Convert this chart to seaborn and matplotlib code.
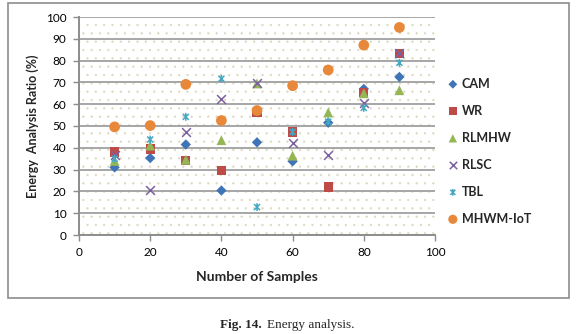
import numpy as np
import pandas as pd
import matplotlib
matplotlib.use("Agg")
import matplotlib.pyplot as plt
import seaborn as sns
from matplotlib.path import Path
from matplotlib.patches import Rectangle

samples = [10, 20, 30, 40, 50, 60, 70, 80, 90]
series_names = ["CAM", "WR", "RLMHW", "RLSC", "TBL", "MHWM-IoT"]
cam = [31, 35.3, 41.5, 20.4, 42.5, 33.8, 51.5, 67, 72.5]
wr = [38.1, 39.5, 34.2, 29.5, 56.2, 47.3, 22, 65.4, 83.3]
rlmhw = [34, 41, 34.5, 43.5, 69.5, 36.4, 56.2, 65, 66.4]
rlsc = [36.9, 20.7, 47.1, 62.5, 69.5, 42, 36.5, 60.4, 83.3]
tbl = [35, 43.8, 54.2, 71.7, 12.8, 47.3, 52, 58.3, 79]
mhwm = [49.6, 50.2, 69.1, 52.5, 57.1, 68.5, 75.7, 87.1, 95.2]
x_ticks = [0, 20, 40, 60, 80, 100]
y_ticks = [0, 10, 20, 30, 40, 50, 60, 70, 80, 90, 100]

values = [cam, wr, rlmhw, rlsc, tbl, mhwm]
df = pd.concat([pd.DataFrame({"samples": samples, "ratio": v, "method": n})
                for n, v in zip(series_names, values)], ignore_index=True)

sns.set_theme(style="white")
plt.rcParams["font.family"] = ["Lato", "DejaVu Sans"]
plt.rcParams["hatch.linewidth"] = 0.4

colors = {"CAM": "#3f74b6", "WR": "#be4b48", "RLMHW": "#94b655", "RLSC": "#7c61a0",
          "TBL": "#45a7c1", "MHWM-IoT": "#e8883a"}

ast_verts = [(-1, -1), (1, 1), (-1, 1), (1, -1), (0, -1.3), (0, 1.3)]
ast_codes = [Path.MOVETO, Path.LINETO, Path.MOVETO, Path.LINETO, Path.MOVETO, Path.LINETO]
asterisk = Path(ast_verts, ast_codes)

fig = plt.figure(figsize=(5.8, 3.34), dpi=100)
ax = fig.add_axes([79/580, 1-235/334, (435-79)/580, (235-17)/334])

# frame around chart area
fig.patches.append(Rectangle((8/580, 1-298/334), (569-8)/580, (298-3)/334,
                             transform=fig.transFigure, fill=False,
                             edgecolor="#8c8c8c", linewidth=1.2))

ax.set_facecolor("white")
bg = Rectangle((0, 0), 1, 1, transform=ax.transAxes, fill=False, hatch="..",
               edgecolor="#ddd8bc", linewidth=0, zorder=0)
ax.add_patch(bg)

for yv in y_ticks[1:]:
    ax.axhline(yv, color="#a6a6a6", linewidth=1.4, zorder=1)

styles = {
    "CAM": dict(marker="D", s=28),
    "WR": dict(marker="s", s=45),
    "RLMHW": dict(marker="^", s=50),
    "RLSC": dict(marker="x", s=40),
    "TBL": dict(marker=asterisk, s=32),
    "MHWM-IoT": dict(marker="o", s=60),
}

for name in series_names:
    sub = df[df["method"] == name]
    st = styles[name]
    if name == "TBL":
        sns.scatterplot(data=sub, x="samples", y="ratio", ax=ax, marker=st["marker"],
                        s=st["s"], facecolors="none", edgecolor=colors[name],
                        linewidth=1.1, zorder=3, label=name)
    elif name == "RLSC":
        sns.scatterplot(data=sub, x="samples", y="ratio", ax=ax, marker="x",
                        s=st["s"], color=colors[name], linewidth=1.1, zorder=3, label=name)
    else:
        sns.scatterplot(data=sub, x="samples", y="ratio", ax=ax, marker=st["marker"],
                        s=st["s"], color=colors[name], edgecolor="none", zorder=3, label=name)

ax.set_xlim(0, 100)
ax.set_ylim(0, 100)
ax.set_xticks(x_ticks)
ax.set_yticks(y_ticks)
ax.tick_params(axis="both", labelsize=8.5, colors="#8c8c8c", length=4, width=1,
               direction="out", pad=5)
for lab in ax.get_xticklabels() + ax.get_yticklabels():
    lab.set_color("black")
ax.xaxis.set_ticks_position("bottom")
ax.yaxis.set_ticks_position("left")
for side in ["top", "right"]:
    ax.spines[side].set_visible(False)
for side in ["left", "bottom"]:
    ax.spines[side].set_color("#8c8c8c")
    ax.spines[side].set_linewidth(1.4)

ax.set_xlabel("Number of Samples", fontsize=10, fontweight="bold", labelpad=9)
ax.set_ylabel("Energy  Analysis Ratio (%)", fontsize=9, fontweight="bold", labelpad=5)

leg = ax.legend(loc="upper left", bbox_to_anchor=(1.015, 0.745), frameon=False,
                prop={"weight": "bold", "size": 9}, handletextpad=0.1,
                labelspacing=1.2, handlelength=1.2, borderaxespad=0, markerscale=0.85)

fig.text(262/580, 1-325/334, "Fig. 14.", fontsize=9.5, fontweight="bold",
         family="Liberation Serif", ha="right", va="center")
fig.text(267/580, 1-325/334, "Energy analysis.", fontsize=9.5,
         family="Liberation Serif", ha="left", va="center")

fig.savefig("out.png", dpi=100)
